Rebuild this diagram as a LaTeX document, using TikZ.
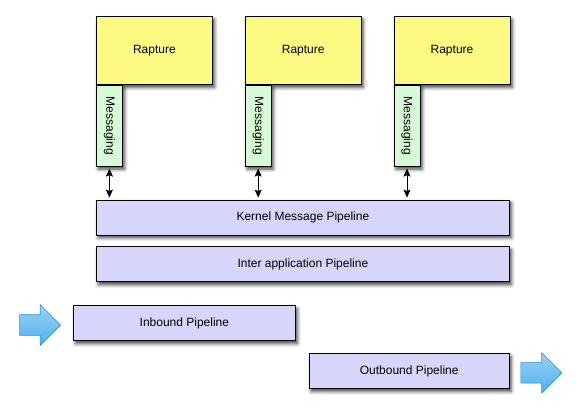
\documentclass[tikz,border=0pt]{standalone}
\usepackage{graphicx}
\usepackage{fontspec}
\setmainfont{Liberation Sans}
\usetikzlibrary{arrows.meta,positioning,shapes.arrows,shadows.blur}
\definecolor{rapyellow}{RGB}{252,250,128}
\definecolor{msggreen}{RGB}{214,250,214}
\definecolor{pipeblue}{RGB}{214,214,250}
\definecolor{flowtop}{RGB}{150,212,245}
\definecolor{flowbot}{RGB}{80,175,235}
\definecolor{flowedge}{RGB}{30,145,220}
\tikzset{
    boxshadow/.style={blur shadow={shadow xshift=2pt,shadow yshift=-3pt,shadow blur radius=3.5pt,shadow opacity=75}},
    rapbox/.style={draw,line width=0.8pt,fill=rapyellow,boxshadow,minimum width=116pt,minimum height=68pt,inner sep=0pt},
    msgbox/.style={draw,line width=0.8pt,fill=msggreen,boxshadow,minimum width=26pt,minimum height=81pt,inner sep=0pt},
    pipe/.style={draw,line width=0.8pt,fill=pipeblue,boxshadow,minimum height=35pt,inner sep=0pt},
    flow/.style={single arrow,draw=flowedge,line width=0.6pt,top color=flowtop,bottom color=flowbot,inner sep=10pt,single arrow head extend=10pt,minimum height=41pt},
    bi/.style={{Stealth[length=8pt,width=7pt,inset=1.5pt]}-{Stealth[length=8pt,width=7pt,inset=1.5pt]},semithick,shorten <=2pt,shorten >=2pt}
}

\begin{document}
\begin{tikzpicture}[font=\fontsize{12}{14}\selectfont]
                \useasboundingbox (0,0) rectangle (579pt,-411pt);

                \node[rapbox,anchor=north west] (rap1) at (96pt,-16pt) {Rapture};
                \node[rapbox]  (rap2) [right=32pt of rap1]                    {Rapture};
                \node[rapbox]  (rap3) [right=32pt of rap2]                    {Rapture};

                \node[msgbox]  (msg1) [below right=0pt and 0pt of rap1.south west] {\rotatebox{-90}{Messaging}};
                \node[msgbox]  (msg2) [below right=0pt and 0pt of rap2.south west] {\rotatebox{-90}{Messaging}};
                \node[msgbox]  (msg3) [below right=0pt and 0pt of rap3.south west] {\rotatebox{-90}{Messaging}};

                \node[pipe,minimum width=413pt] (kernel) [below right=33pt and 0pt of msg1.south west] {Kernel Message Pipeline};
                \node[pipe,minimum width=413pt] (inter)  [below=11pt of kernel]                          {Inter application Pipeline};

                \draw[bi] (msg1) -- (msg1 |- kernel.north);
                \draw[bi] (msg2) -- (msg2 |- kernel.north);
                \draw[bi] (msg3) -- (msg3 |- kernel.north);

                \node[pipe,minimum width=222pt] (inbound)  [below right=23pt and -23pt of inter.south west] {Inbound Pipeline};
                \node[flow]    (inflow)  [left=12pt of inbound,yshift=-2pt]   {};

                \node[pipe,minimum width=200pt] (outbound) [below right=12pt and 13pt of inbound.south east] {Outbound Pipeline};
                \node[flow]    (outflow) [right=11pt of outbound,yshift=-2pt] {};

            \end{tikzpicture}
\end{document}
